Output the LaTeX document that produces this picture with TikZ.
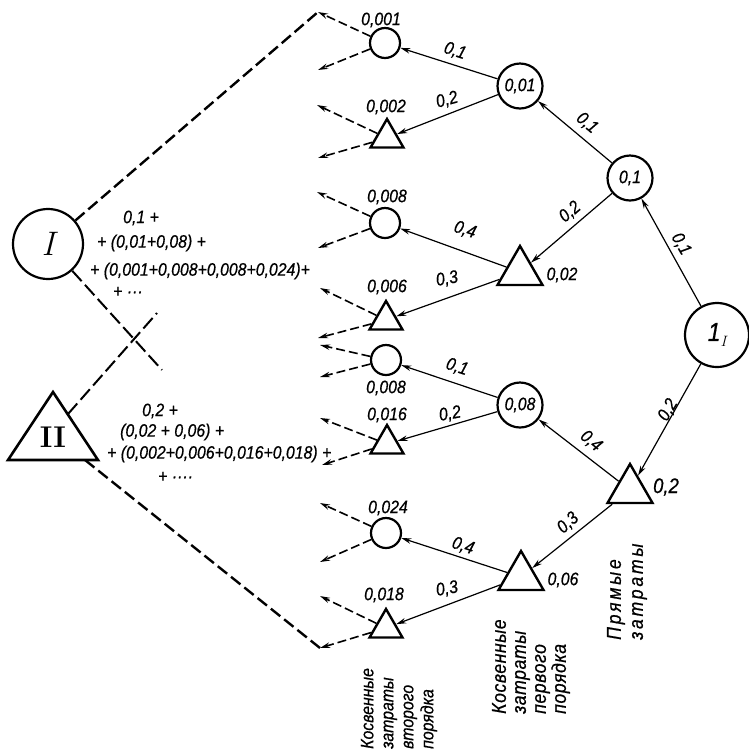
\documentclass[tikz,border=0pt]{standalone}
\usepackage{fontspec}
\newfontfamily\df[FakeStretch=0.88,FakeBold=0.6]{Liberation Sans}
\usetikzlibrary{arrows.meta,shapes.geometric}
\begin{document}
\begin{tikzpicture}[x=1pt,y=-1pt,
  lbl/.style={font=\df\itshape\fontsize{18}{20}\selectfont, inner sep=0pt},
  circ/.style={draw, circle, line width=2.2pt, inner sep=0pt, minimum size=#1},
  tri/.style={draw, regular polygon, regular polygon sides=3, line width=2.4pt, inner sep=0pt, minimum size=#1},
  arr/.style={line width=1.2pt, -{Stealth[length=10pt,width=5.5pt]}},
  darr/.style={line width=1.6pt, dash pattern=on 9pt off 4pt, -{Stealth[length=10pt,width=5.5pt]}},
  bigdash/.style={line width=2.4pt, dash pattern=on 12pt off 5pt},
  caption/.style={lbl, rotate=90, anchor=west, align=left},
]
\useasboundingbox[fill=white] (0,0) rectangle (749,748);

% right-hand tree
\node[circ=64] (n1) at (717,335) {{\df\itshape\fontsize{26}{26}\selectfont 1}\raisebox{-6pt}{\fontsize{15}{15}\selectfont\itshape I}};
\node[lbl, circ=45] (b1) at (630,178) {0,1};
\node[tri=52] (b2) at (630,490) {};
\node[lbl, circ=45] (c1) at (520,86) {0,01};
\node[tri=52] (c2) at (520,272) {};
\node[lbl, circ=45] (c3) at (520,405) {0,08};
\node[tri=52] (c4) at (521,577) {};
\node[circ=30] (d1) at (385,43) {};
\node[tri=38] (d2) at (387,138) {};
\node[circ=30] (d3) at (385,223) {};
\node[tri=38] (d4) at (386,320) {};
\node[circ=30] (d5) at (386,360) {};
\node[tri=38] (d6) at (387,444) {};
\node[circ=30] (d7) at (386,533) {};
\node[tri=38] (d8) at (386,628) {};

% value labels
\node[lbl, font=\df\itshape\fontsize{21}{22}\selectfont] (b2l) at (666,487) {0,2};
\node[lbl] (c2l) at (562,275) {0,02};
\node[lbl] (c4l) at (563,580) {0,06};
\node[lbl] (d1l) at (381,20) {0,001};
\node[lbl] (d2l) at (386,107) {0,002};
\node[lbl] (d3l) at (387,197) {0,008};
\node[lbl] (d4l) at (387,287) {0,006};
\node[lbl] (d5l) at (386,388) {0,008};
\node[lbl] (d6l) at (387,415) {0,016};
\node[lbl] (d7l) at (388,508) {0,024};
\node[lbl] (d8l) at (384,595) {0,018};

% solid arrows
\draw[arr] (n1) -- (b1);
\draw[arr] (n1) -- (b2);
\draw[arr] (b1) -- (c1);
\draw[arr] (b1) -- (c2);
\draw[arr] (b2) -- (c3);
\draw[arr] (b2) -- (c4);
\draw[arr] (c1) -- (d1);
\draw[arr] (c1) -- (d2);
\draw[arr] (c2) -- (d3);
\draw[arr] (c2) -- (d4);
\draw[arr] (c3) -- (d5);
\draw[arr] (c3) -- (d6);
\draw[arr] (c4) -- (d7);
\draw[arr] (c4) -- (d8);

% edge labels
\node[lbl, rotate=-60] (l1) at (681,244) {0,1};
\node[lbl, rotate=60] (l2) at (668,410) {0,2};
\node[lbl, rotate=-40] (l3) at (587,123) {0,1};
\node[lbl, rotate=40] (l4) at (570,212) {0,2};
\node[lbl, rotate=-40] (l5) at (591,441) {0,4};
\node[lbl, rotate=42] (l6) at (568,523) {0,3};
\node[lbl, rotate=-18] (l7) at (455,51) {0,1};
\node[lbl, rotate=15] (l8) at (447,100) {0,2};
\node[lbl, rotate=-18] (l9) at (465,230) {0,4};
\node[lbl, rotate=10] (l10) at (447,279) {0,3};
\node[lbl, rotate=-18] (l11) at (457,367) {0,1};
\node[lbl, rotate=10] (l12) at (450,414) {0,2};
\node[lbl, rotate=-18] (l13) at (463,546) {0,4};
\node[lbl, rotate=10] (l14) at (447,589) {0,3};

% dashed arrow ends
\coordinate (e1u) at (318,12);  \coordinate (e1d) at (318,70);
\coordinate (e2u) at (317,105); \coordinate (e2d) at (318,158);
\coordinate (e3u) at (317,192); \coordinate (e3d) at (318,248);
\coordinate (e4u) at (320,288); \coordinate (e4d) at (318,338);
\coordinate (e5u) at (320,345); \coordinate (e5d) at (320,377);
\coordinate (e6u) at (320,418); \coordinate (e6d) at (322,465);
\coordinate (e7u) at (320,503); \coordinate (e7d) at (320,562);
\coordinate (e8u) at (320,596); \coordinate (e8d) at (320,648);
\foreach \i in {1,...,8}{
  \draw[darr] (d\i) -- (e\i u);
  \draw[darr] (d\i) -- (e\i d);
}

% left part
\node[circ=70] (cI) at (48,244) {\fontsize{34}{34}\selectfont\itshape I};
\draw[line width=2.6pt, line join=miter] (8,460) -- (53,392) -- (98,460) -- cycle;
\node (II) at (53,437) {\fontsize{30}{30}\selectfont\bfseries II};
\coordinate (IIr) at (85,460);
\coordinate (IIt) at (68,414);
\coordinate (x1) at (162,370);
\coordinate (x2) at (157,313);
\draw[bigdash] (cI) -- (e1u);
\draw[bigdash] (IIr) -- (e8d);
\draw[bigdash, line width=2pt, dash pattern=on 14pt off 5pt] (cI) -- (x1);
\draw[bigdash, line width=2pt, dash pattern=on 14pt off 5pt] (IIt) -- (x2);

% sums
\node[lbl, anchor=west] (s1) at (123,218) {0,1 +};
\node[lbl, anchor=west] (s2) at (97,243) {+ (0,01+0,08) +};
\node[lbl, anchor=west] (s3) at (90,271) {+ (0,001+0,008+0,008+0,024)+};
\node[lbl, anchor=west] (s4) at (113,292) {+ ···};
\node[lbl, anchor=west] (t1) at (142,411) {0,2 +};
\node[lbl, anchor=west] (t2) at (120,432) {(0,02 + 0,06) +};
\node[lbl, anchor=west] (t3) at (107,454) {+ (0,002+0,006+0,016+0,018) +};
\node[lbl, anchor=west] (t4) at (158,477) {+ ····};

% captions
\node[caption, font=\df\itshape\fontsize{20}{22}\selectfont\addfontfeature{LetterSpace=14}] (r1) at (627,640) {Прямые\\затраты};
\node[caption, font=\df\itshape\fontsize{20}{20}\selectfont\addfontfeature{LetterSpace=3}] (r2) at (531,714) {Косвенные\\затраты\\первого\\порядка};
\node[caption] (r3) at (399,749) {Косвенные\\затраты\\второго\\порядка};
\end{tikzpicture}
\end{document}
